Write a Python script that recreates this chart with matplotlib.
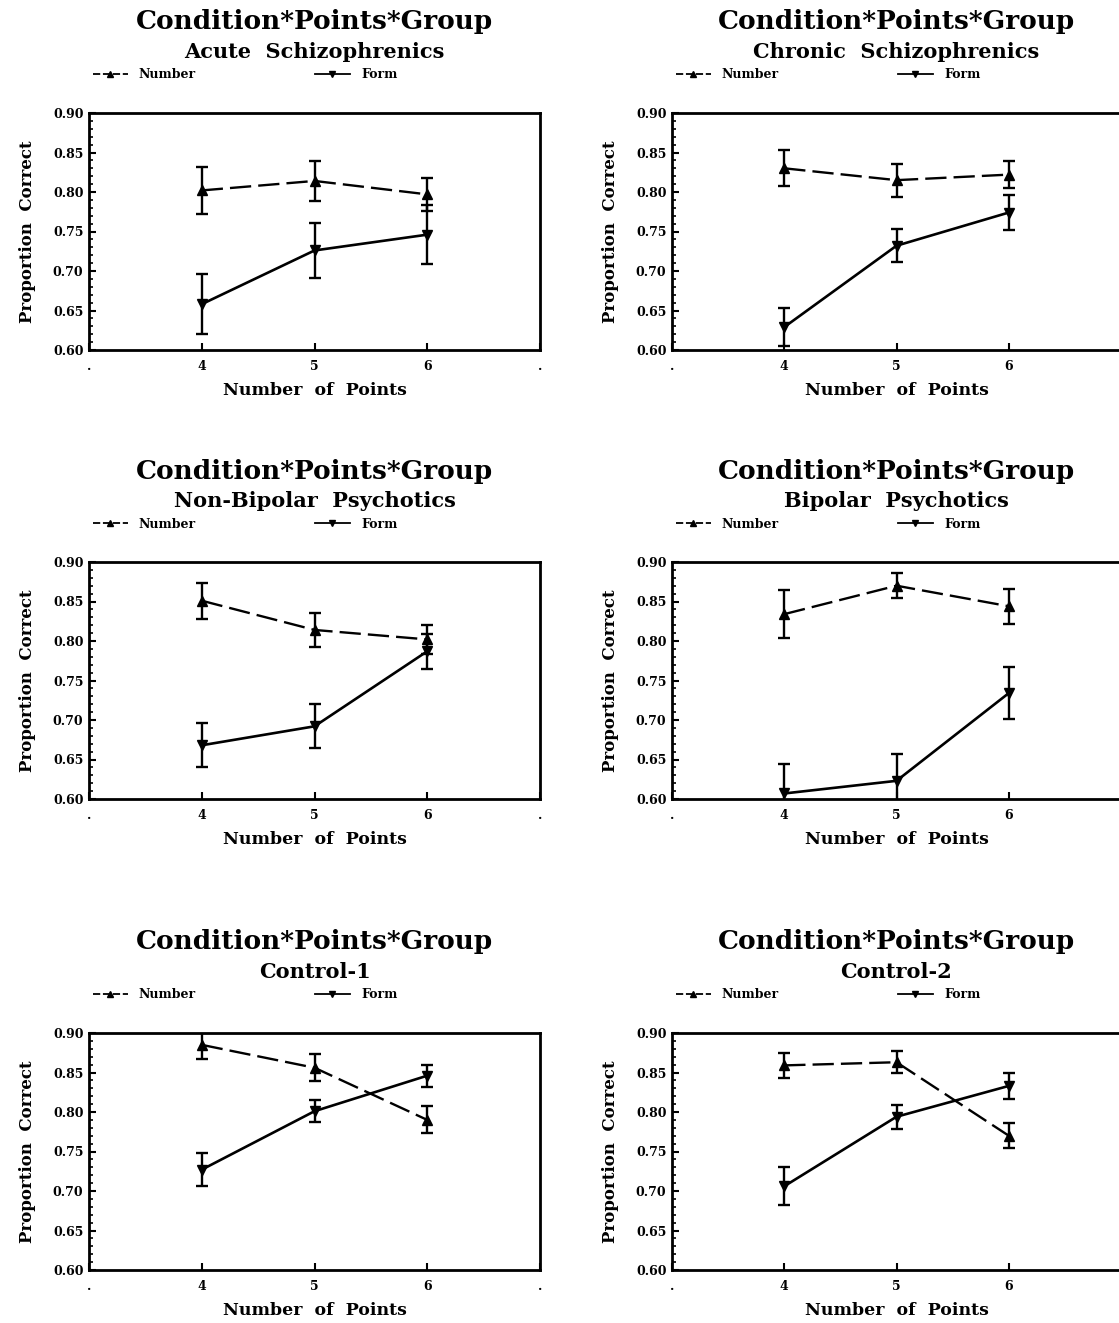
#Condition*Points*Group panels, one per patient group
#draws Number and Form proportion correct with error bars

import matplotlib
matplotlib.use("Agg")
import matplotlib.pyplot as plt
from matplotlib.lines import Line2D

#data
groups = ["Acute  Schizophrenics", "Chronic  Schizophrenics",
          "Non-Bipolar  Psychotics", "Bipolar  Psychotics",
          "Control-1", "Control-2"]
points = [4, 5, 6]
numberMean = [[0.802, 0.814, 0.797], [0.830, 0.815, 0.822],
              [0.851, 0.814, 0.802], [0.834, 0.870, 0.844],
              [0.885, 0.856, 0.790], [0.859, 0.863, 0.770]]
numberErr = [[0.030, 0.025, 0.021], [0.023, 0.021, 0.017],
             [0.023, 0.021, 0.018], [0.030, 0.016, 0.022],
             [0.018, 0.017, 0.017], [0.016, 0.014, 0.016]]
formMean = [[0.658, 0.726, 0.746], [0.629, 0.732, 0.774],
            [0.668, 0.692, 0.787], [0.607, 0.623, 0.734],
            [0.727, 0.801, 0.846], [0.706, 0.794, 0.833]]
formErr = [[0.038, 0.035, 0.037], [0.024, 0.021, 0.022],
           [0.028, 0.028, 0.022], [0.037, 0.034, 0.033],
           [0.021, 0.014, 0.014], [0.024, 0.015, 0.016]]
xTicks = [3, 4, 5, 6, 7]
#the right column is cut at the page edge, so its last dot is lost
xTickLabels = [[".", "4", "5", "6", "."], [".", "4", "5", "6", ""]]
yTicks = [0.60, 0.65, 0.70, 0.75, 0.80, 0.85, 0.90]

title = "Condition*Points*Group"
seriesNames = ["Number", "Form"]

W, H = 1119, 1323
plt.rcParams['font.family'] = ['DejaVu Serif', 'DejaVu Sans']
plt.rcParams['font.weight'] = 'bold'

fig = plt.figure(figsize=(W / 100, H / 100), dpi=100)

#pixel boxes of the axes (left, top, width) in the reference
colLeft = [89, 672]
colWidth = [451, 449]
rowTop = [113, 562, 1033]
axH = 237


def drawPanel(ax, i, col):
    #dashed Number line, solid Form line
    ax.errorbar(points, numberMean[i], yerr=numberErr[i], color='black',
                linestyle=(0, (9, 3)), linewidth=1.7, marker='^',
                markersize=7.5, capsize=4, capthick=1.7, elinewidth=1.7)
    ax.errorbar(points, formMean[i], yerr=formErr[i], color='black',
                linestyle='-', linewidth=1.9, marker='v',
                markersize=7.5, capsize=4, capthick=1.7, elinewidth=1.7)
    ax.set_xlim(3, 7)
    ax.set_ylim(0.60, 0.90)
    ax.set_xticks(xTicks)
    ax.set_xticklabels(xTickLabels[col])
    ax.set_yticks(yTicks)
    ax.set_yticklabels(["%.2f" % v for v in yTicks])
    ax.set_yticks([0.60 + 0.01 * k for k in range(31)], minor=True)
    ax.tick_params(axis='both', which='major', direction='in', length=5,
                   width=1.5, labelsize=9)
    ax.tick_params(axis='x', which='major', pad=7)
    ax.tick_params(axis='y', which='major', pad=4)
    ax.tick_params(axis='y', which='minor', direction='in', length=3,
                   width=1.2)
    for lab in ax.get_xticklabels() + ax.get_yticklabels():
        lab.set_fontweight('bold')
    for s in ax.spines.values():
        s.set_linewidth(2.0)
    if col == 1:
        ax.spines['right'].set_visible(False)
    ax.set_xlabel("Number  of  Points", fontsize=12.5, fontweight='bold',
                  labelpad=7)
    ax.set_ylabel("Proportion  Correct", fontsize=12, fontweight='bold',
                  labelpad=12)

    #titles and legend above the axes
    ax.text(0.5, 1 + 91 / axH, title, transform=ax.transAxes, ha='center',
            va='center', fontsize=19, fontweight='bold')
    ax.text(0.5, 1 + 61 / axH, groups[i], transform=ax.transAxes,
            ha='center', va='center', fontsize=15, fontweight='bold')
    handles = [Line2D([], [], color='black', linestyle=(0, (4, 1.5)),
                      marker='^', markersize=4.5, linewidth=1.3),
               Line2D([], [], color='black', linestyle='-',
                      marker='v', markersize=4.5, linewidth=1.3)]
    ax.legend(handles, seriesNames, loc='center left',
              bbox_to_anchor=(0.008, 1 + 38 / axH), ncol=2, frameon=False,
              prop={'size': 9, 'weight': 'bold'}, handlelength=2.8,
              handletextpad=0.9, columnspacing=9.5, borderaxespad=0,
              borderpad=0)


for i in range(6):
    r, c = i // 2, i % 2
    left = colLeft[c] / W
    bottom = 1 - (rowTop[r] + axH) / H
    ax = fig.add_axes([left, bottom, colWidth[c] / W, axH / H])
    drawPanel(ax, i, c)

fig.savefig("out.png", dpi=100)
